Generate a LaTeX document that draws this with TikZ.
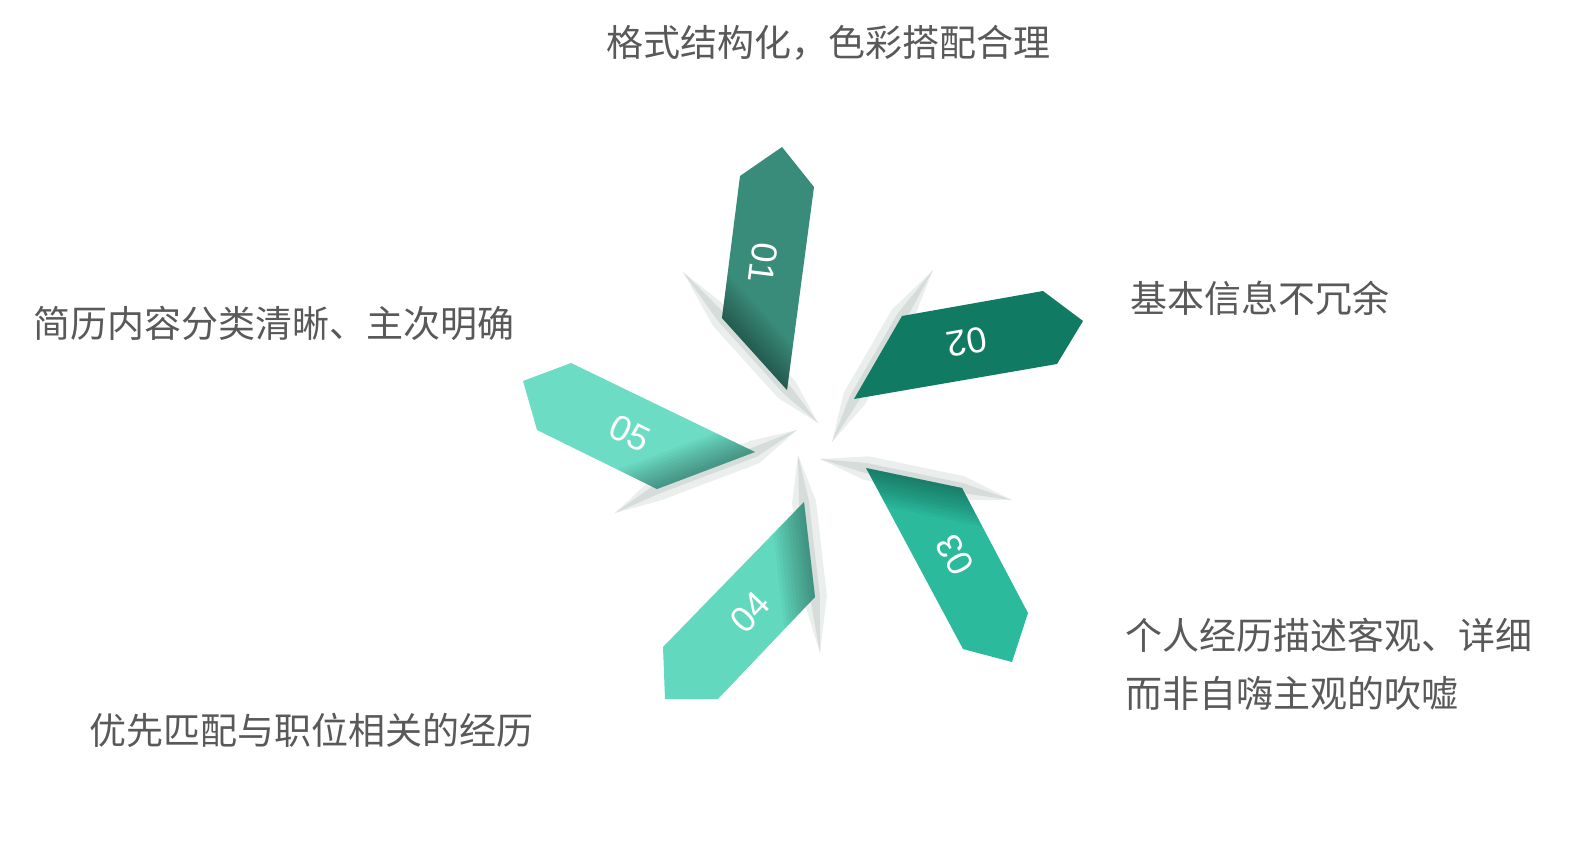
\documentclass[tikz,border=0pt]{standalone}
\usepackage{fontspec}
\newfontfamily\cjk{Noto Sans CJK SC}
\newfontfamily\numfont{Liberation Sans}
\usetikzlibrary{calc}
\definecolor{petcol1}{HTML}{3A8C7A}
\definecolor{petcol2}{HTML}{107A62}
\definecolor{petcol3}{HTML}{2BBA9C}
\definecolor{petcol4}{HTML}{62D8BE}
\definecolor{petcol5}{HTML}{6CDCC4}
\definecolor{labgray}{HTML}{595959}
\definecolor{shadelight}{HTML}{EAEFED}
\definecolor{shadedark}{HTML}{D5DCD9}
\tikzset{
  tiptext/.style={text=labgray, font=\cjk\fontsize{37}{58}\selectfont, inner sep=0pt, align=left},
  numtext/.style={text=white, font=\numfont\fontsize{36}{36}\selectfont, inner sep=0pt},
  shadowout/.style={fill=shadelight},
  shadowin/.style={fill=shadedark},
  fold/.style={fill=black, opacity=0.03}
}
\begin{document}
\begin{tikzpicture}[x=1pt,y=-1pt]
\useasboundingbox (0,0) rectangle (1585,865);
% petal corners: cut ends a and e, outer corners b c d; shadow ends s and t
\coordinate (a1) at (722,318); \coordinate (b1) at (740,176); \coordinate (c1) at (782,147);
\coordinate (d1) at (814,187); \coordinate (e1) at (787,390);
\coordinate (s1) at (683,272); \coordinate (t1) at (818,423);
\coordinate (a2) at (902,316); \coordinate (b2) at (1043,291); \coordinate (c2) at (1083,321);
\coordinate (d2) at (1057,364); \coordinate (e2) at (854,399);
\coordinate (s2) at (933,270); \coordinate (t2) at (832,442);
\coordinate (a3) at (962,488); \coordinate (b3) at (1028,613); \coordinate (c3) at (1012,662);
\coordinate (d3) at (963,649); \coordinate (e3) at (866,468);
\coordinate (s3) at (1012,500); \coordinate (t3) at (820,459);
\coordinate (a4) at (815,597); \coordinate (b4) at (718,699); \coordinate (c4) at (665,699);
\coordinate (d4) at (663,647); \coordinate (e4) at (804,502);
\coordinate (s4) at (820,653); \coordinate (t4) at (798,455);
\coordinate (a5) at (755,452); \coordinate (b5) at (571,363); \coordinate (c5) at (523,381);
\coordinate (d5) at (537,430); \coordinate (e5) at (657,489);
\coordinate (s5) at (797,430); \coordinate (t5) at (615,513);

% shadows along the cuts
\foreach \i in {1,...,5}{
  \fill[shadowout] (s\i) -- ($(a\i)!12pt!90:(e\i)$) -- ($(e\i)!12pt!-90:(a\i)$) -- (t\i)
    -- ($(e\i)!12pt!90:(a\i)$) -- ($(a\i)!12pt!-90:(e\i)$) -- cycle;
  \fill[shadowin] (s\i) -- ($(a\i)!5pt!90:(e\i)$) -- ($(e\i)!5pt!-90:(a\i)$) -- (t\i)
    -- ($(e\i)!5pt!90:(a\i)$) -- ($(a\i)!5pt!-90:(e\i)$) -- cycle;
}

% petals
\foreach \i in {1,...,5}{
  \fill[petcol\i] (a\i) -- (b\i) -- (c\i) -- (d\i) -- (e\i) -- cycle;
  \ifnum\i=2\relax\else
    \foreach \k in {4,8,...,44}
      \fill[fold] (a\i) -- ($(a\i)!\k pt!(b\i)$) -- ($(e\i)!\k pt!(d\i)$) -- (e\i) -- cycle;
  \fi
}

\node[numtext, rotate=-97] (num1) at (763,263) {01};
\node[numtext, rotate=190] (num2) at (967,342) {02};
\node[numtext, rotate=118] (num3) at (955,555) {03};
\node[numtext, rotate=46] (num4) at (750,612) {04};
\node[numtext, rotate=-26] (num5) at (630,433) {05};

\node[tiptext] (tip1) at (828,43) {格式结构化，色彩搭配合理};
\node[tiptext, anchor=west] (tip2) at (1130,298) {基本信息不冗余};
\node[tiptext, anchor=west] (tip3) at (1125,664) {个人经历描述客观、详细\\而非自嗨主观的吹嘘};
\node[tiptext, anchor=west] (tip4) at (89,730) {优先匹配与职位相关的经历};
\node[tiptext, anchor=west] (tip5) at (33,323) {简历内容分类清晰、主次明确};
\end{tikzpicture}
\end{document}
